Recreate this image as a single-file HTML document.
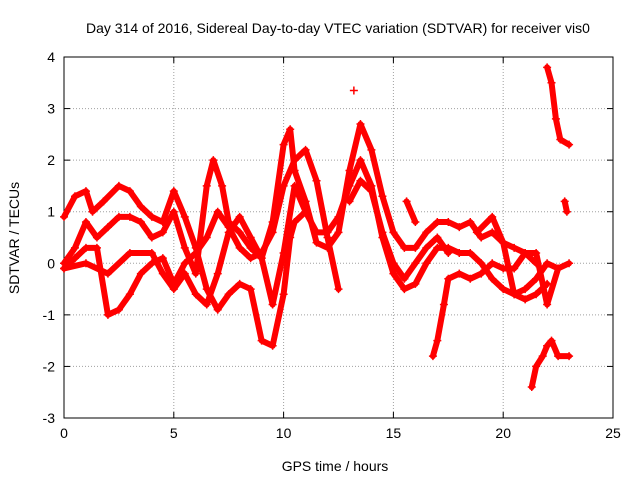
<!DOCTYPE html>
<html><head><meta charset="utf-8"><style>
body{margin:0;background:#fff}
svg{display:block}
text{font-family:"Liberation Sans",sans-serif;font-size:14px;fill:#000}
</style></head><body>
<svg id="chart" width="640" height="480">
<text x="338" y="33" text-anchor="middle">Day 314 of 2016, Sidereal Day-to-day VTEC variation (SDTVAR) for receiver vis0</text>
<g id="grid"></g>
<g id="axes"></g>
<g id="series"></g>
<text x="335" y="471" text-anchor="middle">GPS time / hours</text>
<text transform="translate(19,238) rotate(-90)" text-anchor="middle">SDTVAR / TECUs</text>
</svg>
<script>
const xTicks=[0,5,10,15,20,25];
const yTicks=[-3,-2,-1,0,1,2,3,4];
const t1=[[0,0.9],[0.5,1.3],[1,1.4],[1.3,1.0],[1.8,1.2],[2.5,1.5],[3,1.4],[3.5,1.1],[4,0.9],[4.5,0.8],[5,1.4],[5.5,0.9],[6,0.3],[6.5,-0.5],[7,-0.9],[7.5,-0.6],[8,-0.4],[8.5,-0.5],[9,-1.5],[9.5,-1.6],[10,-0.6],[10.3,0.5],[10.5,0.8],[11,1.0]];
const t2=[[0,-0.1],[0.5,0.1],[1,0.3],[1.5,0.3],[2,-1.0],[2.5,-0.9],[3,-0.6],[3.5,-0.2],[4,0],[4.5,0.1],[5,-0.4],[5.5,0.0],[6,0.2],[6.5,0.5],[7,1.0],[7.5,0.7],[8,0.3],[8.5,0.1],[9,0.2],[9.5,0.6],[10,1.5],[10.5,2.0],[11,2.2],[11.5,1.6],[12,0.5],[12.5,-0.5]];
const t3=[[0,0],[0.5,0.3],[1,0.8],[1.5,0.5],[2,0.7],[2.5,0.9],[3,0.9],[3.5,0.8],[4,0.5],[4.5,0.6],[5,1.0],[5.5,0.3],[6,-0.2],[6.5,1.5],[6.8,2.0],[7.2,1.5],[7.5,0.8],[8,0.6],[8.5,0.3],[9,0.1],[9.5,0.8],[10,2.3],[10.3,2.6],[10.5,1.8],[11,1.2],[11.5,0.4],[12,0.3],[12.5,0.6],[13,1.8],[13.5,2.7],[14,2.2],[14.5,1.3],[15,0.6],[15.5,0.3],[16,0.3],[16.5,0.6],[17,0.8],[17.5,0.8],[18,0.7],[18.5,0.8],[19,0.5],[19.5,0.6],[20,0.4],[20.5,0.3],[21,0.2],[21.5,0.0]];
const t4=[[0,-0.1],[1,0.0],[2,-0.2],[3,0.2],[4,0.2],[4.5,-0.2],[5,-0.5],[5.5,-0.2],[6,-0.6],[6.5,-0.8],[7,-0.2],[7.5,0.6],[8,0.9],[8.5,0.5],[9,0.1],[9.5,-0.8],[10,0.2],[10.5,1.5],[11,1.0],[11.5,0.6],[12,0.6],[12.5,0.9],[13,1.5],[13.5,2.0],[14,1.5],[14.5,0.5],[15,-0.2],[15.5,-0.5],[16,-0.4],[16.5,0],[17,0.3],[17.5,0.3],[18,0.2],[18.5,0.2],[19,0.0],[19.5,-0.3],[20,-0.5],[20.5,-0.6],[21,-0.5],[21.5,-0.3],[22,0],[22.5,-0.1],[23,0.0]];
const t5=[[13,1.2],[13.5,1.6],[14,1.4],[14.5,0.6],[15,0.0],[15.5,-0.3],[16,0.0],[16.5,0.3],[17,0.5],[17.5,0.2]];
const t6=[[16.8,-1.8],[17,-1.5],[17.3,-0.8],[17.5,-0.3],[18,-0.2],[18.5,-0.3],[19,-0.2],[19.5,0.0],[20,-0.1],[20.5,-0.1],[21,0.2],[21.5,0.2],[22,-0.8],[22.5,-0.1]];
const t7=[[18.8,0.6],[19.5,0.9],[20,0.4],[20.5,-0.6],[21,-0.7],[21.5,-0.6],[22,-0.4]];
const t8=[[21.3,-2.4],[21.5,-2.0],[21.8,-1.8],[22,-1.6],[22.2,-1.5],[22.5,-1.8],[23,-1.8]];
const t9=[[22,3.8],[22.2,3.5],[22.4,2.8],[22.6,2.4],[23,2.3]];
const t10=[[15.6,1.2],[16,0.8]];
const t11=[[22.8,1.2],[22.9,1.0]];
const t12=[[13.2,3.35]];
const allSeries=[t1,t2,t3,t4,t5,t6,t7,t8,t9,t10,t11,t12];
const NS="http://www.w3.org/2000/svg";
const X0=64,X1=613,Y0=418,Y1=57;
const sx=v=>X0+(v-0)/(25-0)*(X1-X0);
const sy=v=>Y0-(v+3)/7*(Y0-Y1);
function mk(tag,attrs,parent){const e=document.createElementNS(NS,tag);for(const k in attrs)e.setAttribute(k,attrs[k]);parent.appendChild(e);return e;}
const grid=document.getElementById('grid'),axes=document.getElementById('axes'),ser=document.getElementById('series');
xTicks.forEach(t=>{
  if(t>0&&t<25){const g=mk('line',{x1:sx(t),x2:sx(t),y1:Y0,y2:Y1,stroke:'#a0a0a0','stroke-dasharray':'1,2'},grid);
  
  }
  const l=mk('text',{x:sx(t),y:Y0+20,'text-anchor':'middle'},axes);l.textContent=t;
  
  
  mk('line',{x1:sx(t),x2:sx(t),y1:Y0,y2:Y0-6,stroke:'#000'},axes);
  mk('line',{x1:sx(t),x2:sx(t),y1:Y1,y2:Y1+6,stroke:'#000'},axes);
});
yTicks.forEach(t=>{
  if(t>-3&&t<4){const g=mk('line',{x1:X0,x2:X1,y1:sy(t),y2:sy(t),stroke:'#a0a0a0','stroke-dasharray':'1,2'},grid);
  
  }
  const l=mk('text',{x:X0-9,y:sy(t)+5,'text-anchor':'end'},axes);l.textContent=t;
  
  
  mk('line',{x1:X0,x2:X0+6,y1:sy(t),y2:sy(t),stroke:'#000'},axes);
  mk('line',{x1:X1,x2:X1-6,y1:sy(t),y2:sy(t),stroke:'#000'},axes);
});
mk('rect',{x:X0,y:Y1,width:X1-X0,height:Y0-Y1,fill:'none',stroke:'#000'},axes);
allSeries.forEach((s,i)=>{
  const g=mk('g',{},ser);
  
  
  if(s.length>1){const pl=mk('polyline',{points:s.map(p=>sx(p[0])+','+sy(p[1])).join(' '),fill:'none',stroke:'#f00','stroke-width':6,'stroke-linejoin':'round','stroke-linecap':'round'},g);
  
  }
  s.forEach(p=>{const x=sx(p[0]),y=sy(p[1]);
    const m=mk('path',{d:`M${x-4},${y}h8M${x},${y-4}v8`,stroke:'#f00','stroke-width':1.5},g);
    
    
  });
});
</script>
</body></html>
